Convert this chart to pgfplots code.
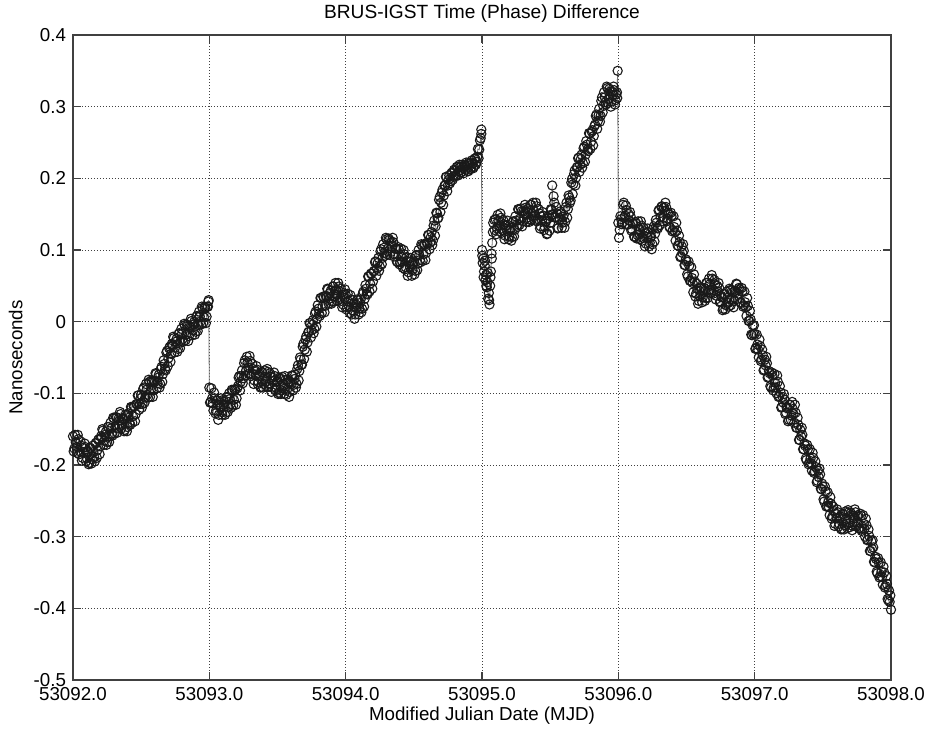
\documentclass[border=0pt]{standalone}
\usepackage{pgfplots}
\pgfplotsset{compat=1.18}
\usepackage{fontspec}
\setmainfont{Liberation Sans}
\pgfplotstableread{
d y
0.00 -0.160
0.01 -0.177
0.02 -0.168
0.03 -0.183
0.04 -0.164
0.05 -0.181
0.06 -0.173
0.07 -0.190
0.08 -0.182
0.09 -0.175
0.10 -0.190
0.11 -0.181
0.12 -0.197
0.13 -0.177
0.14 -0.192
0.15 -0.182
0.16 -0.195
0.17 -0.169
0.18 -0.179
0.19 -0.164
0.20 -0.174
0.21 -0.162
0.22 -0.152
0.23 -0.166
0.24 -0.154
0.25 -0.168
0.26 -0.147
0.27 -0.160
0.28 -0.149
0.29 -0.159
0.30 -0.135
0.31 -0.147
0.32 -0.134
0.33 -0.149
0.34 -0.138
0.35 -0.129
0.36 -0.144
0.37 -0.135
0.38 -0.151
0.39 -0.132
0.40 -0.147
0.41 -0.134
0.42 -0.144
0.43 -0.120
0.44 -0.132
0.45 -0.118
0.46 -0.129
0.47 -0.115
0.48 -0.103
0.49 -0.115
0.50 -0.102
0.51 -0.115
0.52 -0.092
0.53 -0.106
0.54 -0.095
0.55 -0.106
0.56 -0.084
0.57 -0.096
0.58 -0.084
0.59 -0.096
0.60 -0.084
0.61 -0.073
0.62 -0.086
0.63 -0.074
0.64 -0.087
0.65 -0.063
0.66 -0.073
0.67 -0.059
0.68 -0.068
0.69 -0.041
0.70 -0.051
0.71 -0.035
0.72 -0.045
0.73 -0.033
0.74 -0.023
0.75 -0.036
0.76 -0.024
0.77 -0.038
0.78 -0.016
0.79 -0.029
0.80 -0.017
0.81 -0.028
0.82 -0.005
0.83 -0.018
0.84 -0.006
0.85 -0.020
0.86 -0.008
0.87 0.001
0.88 -0.012
0.89 0.000
0.90 -0.014
0.91 0.008
0.92 -0.005
0.93 0.007
0.94 -0.004
0.95 0.019
0.96 0.006
0.97 0.019
0.98 0.007
0.99 0.021
0.995 0.030
1.00 -0.092
1.01 -0.112
1.02 -0.107
1.03 -0.124
1.04 -0.107
1.05 -0.124
1.06 -0.116
1.07 -0.130
1.08 -0.119
1.09 -0.110
1.10 -0.124
1.11 -0.112
1.12 -0.127
1.13 -0.105
1.14 -0.119
1.15 -0.108
1.16 -0.120
1.17 -0.096
1.18 -0.109
1.19 -0.095
1.20 -0.107
1.21 -0.090
1.22 -0.076
1.23 -0.084
1.24 -0.068
1.25 -0.079
1.26 -0.054
1.27 -0.068
1.28 -0.057
1.29 -0.073
1.30 -0.055
1.31 -0.073
1.32 -0.066
1.33 -0.082
1.34 -0.074
1.35 -0.067
1.36 -0.084
1.37 -0.074
1.38 -0.091
1.39 -0.071
1.40 -0.087
1.41 -0.077
1.42 -0.091
1.43 -0.070
1.44 -0.086
1.45 -0.077
1.46 -0.092
1.47 -0.083
1.48 -0.076
1.49 -0.092
1.50 -0.083
1.51 -0.099
1.52 -0.080
1.53 -0.096
1.54 -0.087
1.55 -0.101
1.56 -0.081
1.57 -0.095
1.58 -0.084
1.59 -0.098
1.60 -0.087
1.61 -0.076
1.62 -0.088
1.63 -0.074
1.64 -0.087
1.65 -0.061
1.66 -0.069
1.67 -0.053
1.68 -0.060
1.69 -0.031
1.70 -0.039
1.71 -0.021
1.72 -0.029
1.73 -0.014
1.74 -0.002
1.75 -0.012
1.76 0.002
1.77 -0.010
1.78 0.014
1.79 0.004
1.80 0.018
1.81 0.008
1.82 0.033
1.83 0.021
1.84 0.034
1.85 0.022
1.86 0.034
1.87 0.045
1.88 0.032
1.89 0.043
1.90 0.028
1.91 0.049
1.92 0.035
1.93 0.044
1.94 0.029
1.95 0.049
1.96 0.032
1.97 0.041
1.98 0.024
1.99 0.033
2.00 0.038
2.01 0.020
2.02 0.028
2.03 0.012
2.04 0.031
2.05 0.016
2.06 0.025
2.07 0.010
2.08 0.019
2.09 0.030
2.10 0.018
2.11 0.031
2.12 0.018
2.13 0.042
2.14 0.032
2.15 0.046
2.16 0.038
2.17 0.063
2.18 0.053
2.19 0.067
2.20 0.056
2.21 0.071
2.22 0.084
2.23 0.074
2.24 0.089
2.25 0.077
2.26 0.101
2.27 0.089
2.28 0.103
2.29 0.092
2.30 0.115
2.31 0.102
2.32 0.114
2.33 0.097
2.34 0.105
2.35 0.111
2.36 0.094
2.37 0.102
2.38 0.083
2.39 0.101
2.40 0.083
2.41 0.091
2.42 0.075
2.43 0.094
2.44 0.076
2.45 0.085
2.46 0.069
2.47 0.077
2.48 0.084
2.49 0.072
2.50 0.084
2.51 0.071
2.52 0.093
2.53 0.081
2.54 0.093
2.55 0.083
2.56 0.106
2.57 0.094
2.58 0.107
2.59 0.096
2.60 0.109
2.61 0.121
2.62 0.110
2.63 0.125
2.64 0.113
2.65 0.141
2.66 0.133
2.67 0.151
2.68 0.145
2.69 0.174
2.70 0.166
2.71 0.184
2.72 0.176
2.73 0.190
2.74 0.202
2.75 0.190
2.76 0.204
2.77 0.196
2.78 0.208
2.79 0.202
2.80 0.210
2.81 0.204
2.82 0.216
2.83 0.210
2.84 0.216
2.85 0.209
2.86 0.215
2.87 0.218
2.88 0.212
2.89 0.218
2.90 0.210
2.91 0.221
2.92 0.215
2.93 0.221
2.94 0.216
2.95 0.228
2.96 0.223
2.97 0.241
2.98 0.240
2.99 0.256
2.995 0.268
3.00 0.100
3.005 0.082
3.01 0.088
3.015 0.070
3.02 0.078
3.025 0.058
3.03 0.065
3.035 0.048
3.04 0.055
3.045 0.032
3.05 0.040
3.055 0.024
3.06 0.050
3.065 0.070
3.07 0.095
3.075 0.110
3.08 0.125
3.09 0.142
3.10 0.143
3.11 0.130
3.12 0.141
3.13 0.126
3.14 0.145
3.15 0.128
3.16 0.136
3.17 0.120
3.18 0.129
3.19 0.135
3.20 0.119
3.21 0.131
3.22 0.118
3.23 0.140
3.24 0.128
3.25 0.141
3.26 0.132
3.27 0.156
3.28 0.144
3.29 0.154
3.30 0.140
3.31 0.151
3.32 0.159
3.33 0.145
3.34 0.157
3.35 0.142
3.36 0.163
3.37 0.147
3.38 0.155
3.39 0.141
3.40 0.161
3.41 0.143
3.42 0.151
3.43 0.133
3.44 0.141
3.45 0.148
3.46 0.132
3.47 0.140
3.48 0.123
3.49 0.148
3.50 0.138
3.51 0.156
3.515 0.190
3.52 0.150
3.53 0.166
3.54 0.146
3.55 0.151
3.56 0.131
3.57 0.142
3.58 0.151
3.59 0.138
3.60 0.149
3.61 0.139
3.62 0.166
3.63 0.157
3.64 0.173
3.65 0.169
3.66 0.199
3.67 0.192
3.68 0.211
3.69 0.201
3.70 0.216
3.71 0.229
3.72 0.219
3.73 0.233
3.74 0.221
3.75 0.244
3.76 0.233
3.77 0.247
3.78 0.238
3.79 0.262
3.80 0.251
3.81 0.267
3.82 0.259
3.83 0.275
3.84 0.289
3.85 0.280
3.86 0.297
3.87 0.287
3.88 0.313
3.89 0.301
3.90 0.313
3.91 0.303
3.92 0.326
3.93 0.311
3.94 0.321
3.95 0.307
3.96 0.316
3.97 0.323
3.98 0.309
3.99 0.320
3.995 0.350
4.00 0.138
4.01 0.128
4.02 0.143
4.03 0.138
4.04 0.166
4.05 0.148
4.06 0.156
4.07 0.136
4.08 0.141
4.09 0.147
4.10 0.129
4.11 0.137
4.12 0.118
4.13 0.137
4.14 0.121
4.15 0.129
4.16 0.115
4.17 0.134
4.18 0.117
4.19 0.126
4.20 0.109
4.21 0.118
4.22 0.125
4.23 0.110
4.24 0.119
4.25 0.108
4.26 0.133
4.27 0.123
4.28 0.138
4.29 0.130
4.30 0.156
4.31 0.146
4.32 0.161
4.33 0.145
4.34 0.154
4.35 0.160
4.36 0.144
4.37 0.150
4.38 0.131
4.39 0.147
4.40 0.128
4.41 0.132
4.42 0.113
4.43 0.127
4.44 0.106
4.45 0.111
4.46 0.091
4.47 0.096
4.48 0.099
4.49 0.079
4.50 0.084
4.51 0.063
4.52 0.078
4.53 0.057
4.54 0.061
4.55 0.041
4.56 0.056
4.57 0.039
4.58 0.046
4.59 0.029
4.60 0.036
4.61 0.047
4.62 0.034
4.63 0.047
4.64 0.033
4.65 0.054
4.66 0.041
4.67 0.052
4.68 0.040
4.69 0.060
4.70 0.044
4.71 0.052
4.72 0.036
4.73 0.042
4.74 0.047
4.75 0.028
4.76 0.034
4.77 0.018
4.78 0.038
4.79 0.023
4.80 0.033
4.81 0.021
4.82 0.044
4.83 0.030
4.84 0.041
4.85 0.029
4.86 0.041
4.87 0.052
4.88 0.039
4.89 0.045
4.90 0.026
4.91 0.042
4.92 0.023
4.93 0.027
4.94 0.008
4.95 0.022
4.96 0.001
4.97 0.003
4.98 -0.019
4.99 -0.017
5.00 -0.017
5.01 -0.037
5.02 -0.032
5.03 -0.050
5.04 -0.034
5.05 -0.053
5.06 -0.047
5.07 -0.067
5.08 -0.061
5.09 -0.058
5.10 -0.077
5.11 -0.072
5.12 -0.092
5.13 -0.075
5.14 -0.092
5.15 -0.085
5.16 -0.100
5.17 -0.084
5.18 -0.104
5.19 -0.099
5.20 -0.119
5.21 -0.113
5.22 -0.109
5.23 -0.127
5.24 -0.121
5.25 -0.137
5.26 -0.116
5.27 -0.131
5.28 -0.122
5.29 -0.141
5.30 -0.127
5.31 -0.148
5.32 -0.144
5.33 -0.165
5.34 -0.160
5.35 -0.158
5.36 -0.178
5.37 -0.173
5.38 -0.193
5.39 -0.178
5.40 -0.197
5.41 -0.191
5.42 -0.208
5.43 -0.190
5.44 -0.209
5.45 -0.203
5.46 -0.222
5.47 -0.217
5.48 -0.213
5.49 -0.234
5.50 -0.230
5.51 -0.251
5.52 -0.237
5.53 -0.257
5.54 -0.252
5.55 -0.270
5.56 -0.254
5.57 -0.272
5.58 -0.264
5.59 -0.282
5.60 -0.274
5.61 -0.266
5.62 -0.282
5.63 -0.272
5.64 -0.289
5.65 -0.269
5.66 -0.284
5.67 -0.275
5.68 -0.288
5.69 -0.266
5.70 -0.281
5.71 -0.270
5.72 -0.285
5.73 -0.274
5.74 -0.266
5.75 -0.280
5.76 -0.270
5.77 -0.289
5.78 -0.271
5.79 -0.289
5.80 -0.282
5.81 -0.300
5.82 -0.284
5.83 -0.304
5.84 -0.299
5.85 -0.320
5.86 -0.317
5.87 -0.315
5.88 -0.336
5.89 -0.331
5.90 -0.351
5.91 -0.336
5.92 -0.355
5.93 -0.349
5.94 -0.367
5.95 -0.350
5.96 -0.369
5.97 -0.366
5.98 -0.389
5.99 -0.391
6.00 -0.402
}\phase
\pgfplotstableread{
d y
0.005 -0.181
0.015 -0.158
0.025 -0.175
0.035 -0.158
0.045 -0.185
0.055 -0.167
0.065 -0.194
0.075 -0.176
0.085 -0.170
0.095 -0.195
0.105 -0.182
0.115 -0.199
0.125 -0.176
0.135 -0.198
0.145 -0.173
0.155 -0.189
0.165 -0.170
0.175 -0.190
0.185 -0.165
0.195 -0.185
0.205 -0.160
0.215 -0.150
0.225 -0.172
0.235 -0.158
0.245 -0.172
0.255 -0.147
0.265 -0.168
0.275 -0.141
0.285 -0.156
0.295 -0.134
0.305 -0.156
0.315 -0.133
0.325 -0.155
0.335 -0.135
0.345 -0.126
0.355 -0.149
0.365 -0.136
0.375 -0.153
0.385 -0.130
0.395 -0.153
0.405 -0.128
0.415 -0.141
0.425 -0.119
0.435 -0.141
0.445 -0.118
0.455 -0.139
0.465 -0.115
0.475 -0.103
0.485 -0.123
0.495 -0.107
0.505 -0.120
0.515 -0.094
0.525 -0.113
0.535 -0.087
0.545 -0.102
0.555 -0.081
0.565 -0.105
0.575 -0.082
0.585 -0.105
0.595 -0.082
0.605 -0.072
0.615 -0.093
0.625 -0.078
0.635 -0.092
0.645 -0.066
0.655 -0.084
0.665 -0.054
0.675 -0.066
0.685 -0.043
0.695 -0.062
0.705 -0.037
0.715 -0.056
0.725 -0.031
0.735 -0.021
0.745 -0.043
0.755 -0.028
0.765 -0.042
0.775 -0.017
0.785 -0.037
0.795 -0.010
0.805 -0.024
0.815 -0.003
0.825 -0.026
0.835 -0.004
0.845 -0.027
0.855 -0.006
0.865 0.004
0.875 -0.019
0.885 -0.004
0.895 -0.018
0.905 0.007
0.915 -0.013
0.925 0.014
0.935 0.000
0.945 0.021
0.955 -0.002
0.965 0.020
0.975 -0.002
0.985 0.021
0.993 0.028
1.005 -0.113
1.015 -0.093
1.025 -0.114
1.035 -0.099
1.045 -0.128
1.055 -0.110
1.065 -0.137
1.075 -0.116
1.085 -0.107
1.095 -0.130
1.105 -0.116
1.115 -0.130
1.125 -0.106
1.135 -0.126
1.145 -0.100
1.155 -0.115
1.165 -0.095
1.175 -0.117
1.185 -0.095
1.195 -0.116
1.205 -0.093
1.215 -0.078
1.225 -0.096
1.235 -0.076
1.245 -0.086
1.255 -0.058
1.265 -0.075
1.275 -0.049
1.285 -0.064
1.295 -0.048
1.305 -0.076
1.315 -0.059
1.325 -0.087
1.335 -0.068
1.345 -0.062
1.355 -0.087
1.365 -0.076
1.375 -0.092
1.385 -0.070
1.395 -0.092
1.405 -0.068
1.415 -0.084
1.425 -0.066
1.435 -0.091
1.445 -0.072
1.455 -0.098
1.465 -0.078
1.475 -0.071
1.485 -0.096
1.495 -0.084
1.505 -0.101
1.515 -0.078
1.525 -0.101
1.535 -0.077
1.545 -0.094
1.555 -0.076
1.565 -0.102
1.575 -0.081
1.585 -0.105
1.595 -0.084
1.605 -0.075
1.615 -0.096
1.625 -0.080
1.635 -0.092
1.645 -0.066
1.655 -0.082
1.665 -0.050
1.675 -0.060
1.685 -0.035
1.695 -0.052
1.705 -0.025
1.715 -0.042
1.725 -0.015
1.735 -0.002
1.745 -0.022
1.755 -0.004
1.765 -0.016
1.775 0.011
1.785 -0.007
1.795 0.023
1.805 0.011
1.815 0.033
1.825 0.012
1.835 0.035
1.845 0.013
1.855 0.036
1.865 0.046
1.875 0.025
1.885 0.040
1.895 0.025
1.905 0.049
1.915 0.028
1.925 0.054
1.935 0.037
1.945 0.054
1.955 0.028
1.965 0.046
1.975 0.020
1.985 0.038
1.995 0.045
2.005 0.017
2.015 0.039
2.025 0.021
2.035 0.037
2.045 0.010
2.055 0.030
2.065 0.004
2.075 0.024
2.085 0.031
2.095 0.010
2.105 0.026
2.115 0.013
2.125 0.039
2.135 0.021
2.145 0.051
2.155 0.039
2.165 0.063
2.175 0.042
2.185 0.067
2.195 0.046
2.205 0.070
2.215 0.083
2.225 0.064
2.235 0.082
2.245 0.071
2.255 0.098
2.265 0.080
2.275 0.108
2.285 0.096
2.295 0.117
2.305 0.094
2.315 0.116
2.325 0.093
2.335 0.111
2.345 0.117
2.355 0.091
2.365 0.102
2.375 0.084
2.385 0.104
2.395 0.080
2.405 0.102
2.415 0.084
2.425 0.100
2.435 0.073
2.445 0.090
2.455 0.064
2.465 0.083
2.475 0.089
2.485 0.064
2.495 0.080
2.505 0.066
2.515 0.092
2.525 0.072
2.535 0.100
2.545 0.086
2.555 0.108
2.565 0.085
2.575 0.108
2.585 0.086
2.595 0.110
2.605 0.121
2.615 0.101
2.625 0.118
2.635 0.107
2.645 0.134
2.655 0.120
2.665 0.152
2.675 0.144
2.685 0.170
2.695 0.153
2.705 0.180
2.715 0.163
2.725 0.190
2.735 0.202
2.745 0.182
2.755 0.198
2.765 0.193
2.775 0.207
2.785 0.198
2.795 0.212
2.805 0.204
2.815 0.216
2.825 0.204
2.835 0.219
2.845 0.208
2.855 0.219
2.865 0.207
2.875 0.217
2.885 0.222
2.895 0.210
2.905 0.222
2.915 0.213
2.925 0.225
2.935 0.214
2.945 0.227
2.955 0.219
2.965 0.230
2.975 0.228
2.985 0.253
2.995 0.262
3.002 0.092
3.012 0.062
3.022 0.085
3.032 0.050
3.042 0.068
3.052 0.030
3.062 0.062
3.072 0.088
3.082 0.138
3.092 0.128
3.105 0.122
3.115 0.149
3.125 0.134
3.135 0.151
3.145 0.124
3.155 0.142
3.165 0.115
3.175 0.134
3.185 0.141
3.195 0.115
3.205 0.127
3.215 0.113
3.225 0.139
3.235 0.119
3.245 0.147
3.255 0.134
3.265 0.157
3.275 0.135
3.285 0.158
3.295 0.133
3.305 0.154
3.315 0.163
3.325 0.139
3.335 0.153
3.345 0.139
3.355 0.163
3.365 0.142
3.375 0.166
3.385 0.148
3.395 0.166
3.405 0.140
3.415 0.157
3.425 0.130
3.435 0.147
3.445 0.153
3.455 0.128
3.465 0.140
3.475 0.122
3.485 0.144
3.495 0.127
3.505 0.157
3.515 0.149
3.525 0.175
3.535 0.145
3.545 0.160
3.555 0.130
3.565 0.145
3.575 0.154
3.585 0.131
3.595 0.146
3.605 0.131
3.615 0.160
3.625 0.145
3.635 0.176
3.645 0.166
3.655 0.194
3.665 0.178
3.675 0.206
3.685 0.190
3.695 0.215
3.705 0.228
3.715 0.209
3.725 0.227
3.735 0.215
3.745 0.242
3.755 0.223
3.765 0.252
3.775 0.240
3.785 0.263
3.795 0.241
3.805 0.265
3.815 0.246
3.825 0.273
3.835 0.287
3.845 0.269
3.855 0.288
3.865 0.279
3.875 0.308
3.885 0.292
3.895 0.320
3.905 0.306
3.915 0.328
3.925 0.305
3.935 0.325
3.945 0.300
3.955 0.321
3.965 0.328
3.975 0.303
3.985 0.317
3.992 0.312
4.005 0.117
4.015 0.147
4.025 0.136
4.035 0.163
4.045 0.145
4.055 0.162
4.065 0.135
4.075 0.150
4.085 0.153
4.095 0.127
4.105 0.137
4.115 0.119
4.125 0.139
4.135 0.116
4.145 0.140
4.155 0.122
4.165 0.140
4.175 0.113
4.185 0.131
4.195 0.105
4.205 0.123
4.215 0.130
4.225 0.105
4.235 0.118
4.245 0.101
4.255 0.129
4.265 0.112
4.275 0.142
4.285 0.131
4.295 0.155
4.305 0.135
4.315 0.160
4.325 0.140
4.335 0.159
4.345 0.166
4.355 0.140
4.365 0.152
4.375 0.132
4.385 0.152
4.395 0.126
4.405 0.147
4.415 0.125
4.425 0.138
4.435 0.106
4.445 0.120
4.455 0.090
4.465 0.105
4.475 0.108
4.485 0.079
4.495 0.087
4.505 0.066
4.515 0.084
4.525 0.057
4.535 0.076
4.545 0.054
4.555 0.066
4.565 0.035
4.575 0.053
4.585 0.025
4.595 0.043
4.605 0.048
4.615 0.027
4.625 0.042
4.635 0.029
4.645 0.054
4.655 0.033
4.665 0.060
4.675 0.045
4.685 0.065
4.695 0.039
4.705 0.058
4.715 0.031
4.725 0.050
4.735 0.054
4.745 0.027
4.755 0.036
4.765 0.016
4.775 0.039
4.785 0.017
4.795 0.042
4.805 0.026
4.815 0.046
4.825 0.023
4.835 0.044
4.845 0.020
4.855 0.043
4.865 0.053
4.875 0.032
4.885 0.047
4.895 0.027
4.905 0.047
4.915 0.021
4.925 0.042
4.935 0.020
4.945 0.033
4.955 0.001
4.965 0.015
4.975 -0.018
4.985 -0.005
4.995 -0.005
5.005 -0.038
5.015 -0.018
5.025 -0.039
5.035 -0.025
5.045 -0.055
5.055 -0.039
5.065 -0.068
5.075 -0.053
5.085 -0.049
5.095 -0.078
5.105 -0.069
5.115 -0.090
5.125 -0.071
5.135 -0.096
5.145 -0.073
5.155 -0.092
5.165 -0.075
5.175 -0.105
5.185 -0.090
5.195 -0.120
5.205 -0.105
5.215 -0.101
5.225 -0.129
5.235 -0.119
5.245 -0.139
5.255 -0.116
5.265 -0.137
5.275 -0.112
5.285 -0.129
5.295 -0.116
5.305 -0.148
5.315 -0.134
5.325 -0.165
5.335 -0.151
5.345 -0.148
5.355 -0.178
5.365 -0.170
5.375 -0.191
5.385 -0.172
5.395 -0.199
5.405 -0.178
5.415 -0.198
5.425 -0.183
5.435 -0.211
5.445 -0.195
5.455 -0.224
5.465 -0.208
5.475 -0.205
5.485 -0.233
5.495 -0.226
5.505 -0.248
5.515 -0.230
5.525 -0.258
5.535 -0.238
5.545 -0.259
5.555 -0.245
5.565 -0.275
5.575 -0.258
5.585 -0.285
5.595 -0.268
5.605 -0.262
5.615 -0.286
5.625 -0.274
5.635 -0.290
5.645 -0.268
5.655 -0.290
5.665 -0.265
5.675 -0.282
5.685 -0.263
5.695 -0.287
5.705 -0.267
5.715 -0.291
5.725 -0.271
5.735 -0.262
5.745 -0.286
5.755 -0.272
5.765 -0.288
5.775 -0.268
5.785 -0.292
5.795 -0.270
5.805 -0.289
5.815 -0.275
5.825 -0.305
5.835 -0.290
5.845 -0.320
5.855 -0.306
5.865 -0.305
5.875 -0.335
5.885 -0.328
5.895 -0.349
5.905 -0.330
5.915 -0.357
5.925 -0.336
5.935 -0.356
5.945 -0.342
5.955 -0.371
5.965 -0.355
5.975 -0.387
5.985 -0.375
5.995 -0.382
}\phaseb
\begin{document}
\begin{tikzpicture}
\begin{axis}[
  name=ax,
  scale only axis,
  width=409bp, height=322.5bp,
  xmin=0, xmax=6, ymin=-0.5, ymax=0.4,
  xtick={0,1,2,3,4,5,6},
  xticklabels={53092.0,53093.0,53094.0,53095.0,53096.0,53097.0,53098.0},
  ytick={-0.5,-0.4,-0.3,-0.2,-0.1,0,0.1,0.2,0.3,0.4},
  yticklabels={-0.5,-0.4,-0.3,-0.2,-0.1,0,0.1,0.2,0.3,0.4},
  /pgf/number format/assume math mode=true,
  ticklabel style={font=\fontsize{9.4}{11}\selectfont},
  label style={font=\fontsize{9.4}{11}\selectfont},
  tick align=inside,
  major tick length=4bp,
  tick style={black!75, line width=0.6bp},
  axis line style={black!75, line width=0.6bp},
  grid=major,
  major grid style={black!75, line width=0.4bp, dash pattern=on 0.5bp off 1bp},
  title={BRUS-IGST Time (Phase) Difference},
  title style={font=\fontsize{9.6}{11}\selectfont, at={(0.5,1)}, anchor=base, inner sep=0pt, yshift=2.5bp},
  xlabel={Modified Julian Date (MJD)},
  xlabel style={at={(axis description cs:0.5,0)}, anchor=north, inner sep=0pt, yshift=-13.3bp},
  ylabel={Nanoseconds},
  ylabel style={at={(axis description cs:-0.0611,0.5)}, anchor=south, inner sep=0pt},
  clip=false,
]
\addplot[color=black!55, line width=0.4bp, mark=o, mark size=2.3bp,
  mark options={draw=black!90, line width=0.55bp, solid}]
  table[x=d, y=y] {\phase};
\addplot[only marks, mark=o, mark size=2.3bp,
  mark options={draw=black!90, line width=0.55bp, solid}]
  table[x=d, y=y] {\phaseb};
\end{axis}
\pgfresetboundingbox
\path ([xshift=-36.5bp,yshift=-27bp]ax.south west) rectangle ([xshift=18bp,yshift=17.5bp]ax.north east);
\end{tikzpicture}
\end{document}
